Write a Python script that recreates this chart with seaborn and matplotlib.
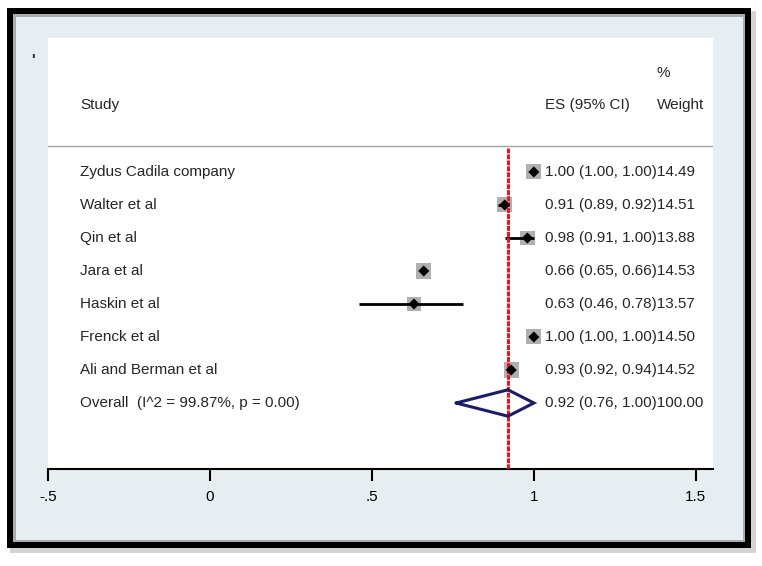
import pandas as pd
import matplotlib.pyplot as plt
import seaborn as sns
from matplotlib.patches import Rectangle


studies = ['Zydus Cadila company', 'Walter et al', 'Qin et al', 'Jara et al',
           'Haskin et al', 'Frenck et al', 'Ali and Berman et al']
es = [1.00, 0.91, 0.98, 0.66, 0.63, 1.00, 0.93]
ci_low = [1.00, 0.89, 0.91, 0.65, 0.46, 1.00, 0.92]
ci_high = [1.00, 0.92, 1.00, 0.66, 0.78, 1.00, 0.94]
weights = [14.49, 14.51, 13.88, 14.53, 13.57, 14.50, 14.52]

overall_label = 'Overall  (I^2 = 99.87%, p = 0.00)'
overall_es = 0.92
overall_low = 0.76
overall_high = 1.00
overall_weight = 100.00

xticks = [-0.5, 0, 0.5, 1, 1.5]
xtick_labels = ['-.5', '0', '.5', '1', '1.5']

df = pd.DataFrame({'study': studies, 'es': es, 'lo': ci_low, 'hi': ci_high,
                   'weight': weights})
df['row'] = range(len(df))

sns.set_style('white')
plt.rcParams['font.family'] = ['Liberation Sans', 'DejaVu Sans']

W, H = 762, 566
fig = plt.figure(figsize=(W / 100, H / 100), dpi=100)
fig.patch.set_facecolor('white')


def fig_rect(x0, y0, x1, y1, color, z):
    # pixel box (top-left origin) -> figure fraction rectangle
    fig.patches.append(Rectangle((x0 / W, 1 - y1 / H), (x1 - x0) / W, (y1 - y0) / H,
                                 transform=fig.transFigure, facecolor=color,
                                 edgecolor='none', zorder=z))


# frame: shadow, black border, grey inner panel
fig_rect(10, 11, 756, 553, '#d4d4d4', 0)
fig_rect(7, 8, 751, 548, 'black', 1)
fig_rect(13, 14, 745, 542, '#a9adaf', 2)
fig_rect(16, 17, 743, 540, '#e7eef1', 3)
fig.text(33 / W, 1 - 60 / H, "'", fontsize=11, fontweight='bold', ha='center', va='center')

ax = fig.add_axes([48 / W, (H - 469) / H, (713 - 48) / W, (469 - 38) / H])
ax.set_facecolor('white')
ax.set_zorder(5)

n = len(df)
ax.set_xlim(-0.5, 1.553)
ax.set_ylim(9.0, -4.06)

# weighted grey boxes
sns.scatterplot(data=df, x='es', y='row', size='weight',
                sizes=(min(weights) * 8.05, max(weights) * 8.05), marker='s',
                color='#b0b0b0', edgecolor='none', legend=False, ax=ax, zorder=2)
# confidence intervals
ax.hlines(df['row'], df['lo'], df['hi'], color='black', lw=2, zorder=3)
# point estimates
sns.scatterplot(data=df, x='es', y='row', marker='D', color='black', s=32,
                edgecolor='none', legend=False, ax=ax, zorder=4)

# overall diamond
yo = n
dh = 0.4
ax.plot([overall_low, overall_es, overall_high, overall_es, overall_low],
        [yo, yo - dh, yo, yo + dh, yo], color='#1b1b6b', lw=2.2, zorder=4,
        solid_joinstyle='miter')

# overall line
ax.vlines(overall_es, -0.73, 9.0, color='#e3191f', lw=2.2, linestyles=(0, (1.6, 0.35)), zorder=3)

# header separator
ax.axhline(-0.79, color='#a3a3a3', lw=1)

# text columns
x_study = -0.401
x_es = 1.034
x_w = 1.380
fs = 11
ax.text(x_study, -2.03, 'Study', fontsize=fs, va='center')
ax.text(x_es, -2.03, 'ES (95% CI)', fontsize=fs, va='center')
ax.text(x_w, -2.03, 'Weight', fontsize=fs, va='center')
ax.text(x_w, -3.0, '%', fontsize=fs, va='center')

for r in df.itertuples():
    ax.text(x_study, r.row, r.study, fontsize=fs, va='center')
    ax.text(x_es, r.row, f'{r.es:.2f} ({r.lo:.2f}, {r.hi:.2f}){r.weight:.2f}',
            fontsize=fs, va='center')
ax.text(x_study, yo, overall_label, fontsize=fs, va='center')
ax.text(x_es, yo, f'{overall_es:.2f} ({overall_low:.2f}, {overall_high:.2f}){overall_weight:.2f}',
        fontsize=fs, va='center')

# axis
for s in ['top', 'left', 'right']:
    ax.spines[s].set_visible(False)
ax.spines['bottom'].set_color('black')
ax.spines['bottom'].set_linewidth(1.5)
ax.set_xticks(xticks)
ax.set_xticklabels(xtick_labels)
ax.set_yticks([])
ax.tick_params(axis='x', direction='out', length=8.6, width=1.5, pad=6.5,
               labelsize=fs, colors='black', bottom=True)
ax.set_xlabel('')
ax.set_ylabel('')

plt.savefig('out.png', dpi=100)
